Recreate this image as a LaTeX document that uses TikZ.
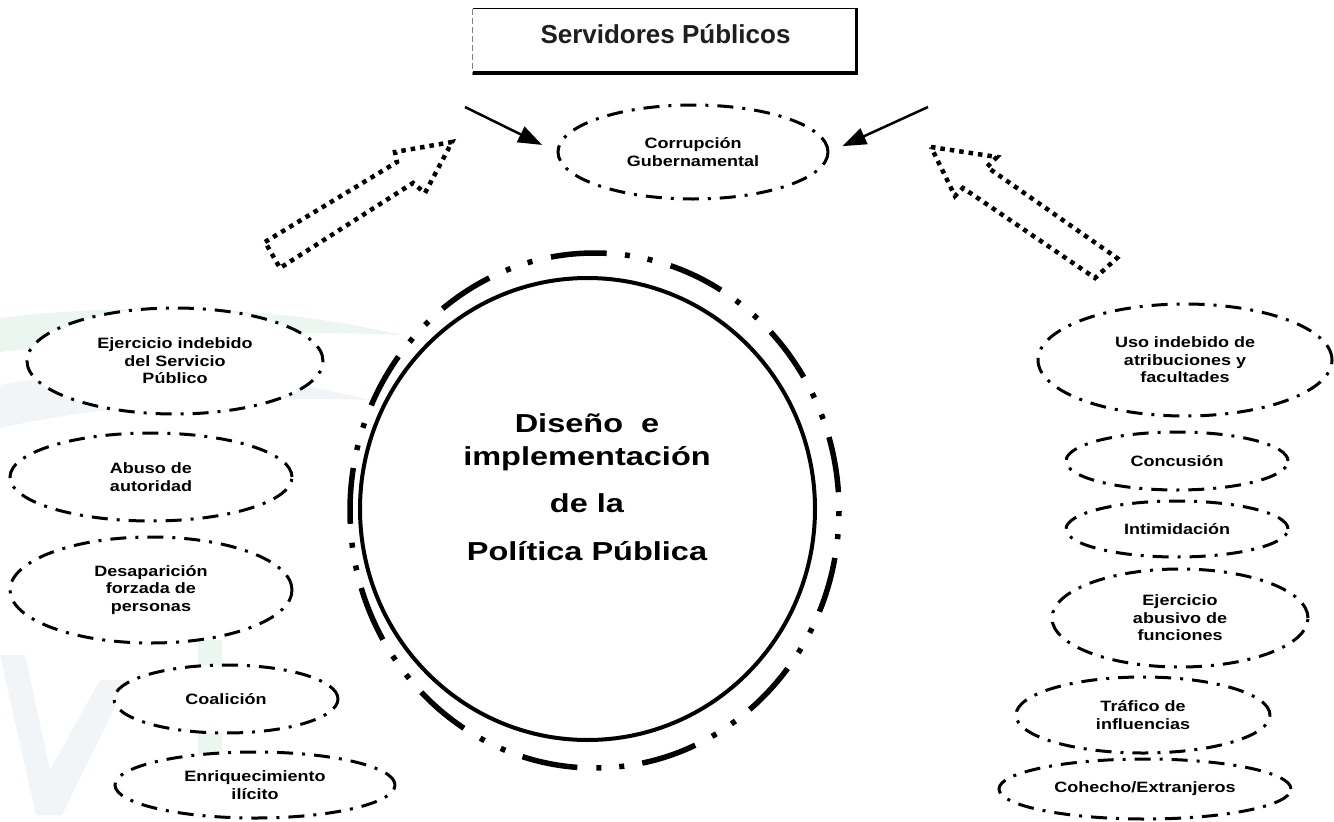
\documentclass[tikz,border=0pt]{standalone}
\usepackage{fontspec}
\setmainfont{Liberation Sans}
\newfontfamily\labfam[FakeStretch=1.2]{Liberation Sans}
\newfontfamily\bigfam[FakeStretch=1.25]{Liberation Sans}
\usetikzlibrary{shapes.geometric,arrows.meta}
\definecolor{wmgreen}{RGB}{236,246,240}
\definecolor{wmblue}{RGB}{242,245,248}
\definecolor{boxtext}{RGB}{30,30,30}
\begin{document}
\begin{tikzpicture}[x=1pt,y=-1pt,
  ell/.style={ellipse, draw=black, fill=white, line width=3pt,
    dash pattern=on 16pt off 9pt on 3pt off 9pt, inner sep=0pt, align=center,
    font=\labfam\bfseries\fontsize{15}{17.5}\selectfont},
  bigline/.style={anchor=base, inner sep=0pt, font=\bigfam\bfseries\fontsize{26}{30}\selectfont},
  blockarrow/.style={line width=4.5pt, dash pattern=on 4.5pt off 5pt, line join=miter},
  thinarrow/.style={line width=2.5pt, -{Triangle[length=24pt,width=17pt]}},
  ringstyle/.style={ellipse, draw=black, line width=5.5pt, inner sep=0pt,
    dash pattern=on 56pt off 19pt on 5pt off 18pt on 5pt off 18.3pt, dash phase=103pt},
  corestyle/.style={ellipse, draw=black, fill=white, line width=4pt, inner sep=0pt}
]
\useasboundingbox (0,0) rectangle (1334,822);
\fill[white] (0,0) rectangle (1334,822);

% faint watermark
\fill[wmgreen] (0,318) .. controls (150,300) and (300,310) .. (400,335) .. controls (300,330) and (150,335) .. (0,352) -- cycle;
\fill[wmblue] (0,385) .. controls (120,362) and (260,372) .. (370,400) .. controls (250,396) and (120,402) .. (0,428) -- cycle;
\fill[wmblue] (0,655) -- (25,655) -- (50,770) -- (100,680) -- (128,680) -- (62,815) -- (36,815) -- cycle;
\fill[wmgreen] (198,640) rectangle (222,780);

% top box
\node[minimum width=385pt, minimum height=66pt, inner sep=0pt, fill=white,
      text height=19pt, text depth=17pt, text=boxtext,
      font=\bfseries\fontsize{26}{30}\selectfont] (sp) at (665.5,42) {Servidores Públicos};
\draw[line width=1pt] (sp.north west) -- (sp.north east);
\draw[gray, line width=1.2pt, dash pattern=on 6pt off 3pt] (sp.north west) -- (sp.south west);
\draw[line width=3.5pt] ([xshift=-1.5pt]sp.north east) -- ([xshift=-1.5pt]sp.south east);
\draw[line width=4pt] ([yshift=2pt]sp.south west) -- ([yshift=2pt]sp.south east);

% central figure
\node[ringstyle, minimum width=489pt, minimum height=515pt] (ring) at (594.5,510.5) {};
\node[corestyle, minimum width=455pt, minimum height=462pt] (core) at (587.5,509) {};
\node[bigline] (t1) at (587,432) {Diseño\ \ e};
\node[bigline] (t2) at (587,465) {implementación};
\node[bigline] (t3) at (587,512) {de la};
\node[bigline] (t4) at (587,560) {Política Pública};

% top ellipse
\node[ell, minimum width=270pt, minimum height=94pt] (corr) at (693,152) {Corrupción\\Gubernamental};

% left ellipses
\node[ell, minimum width=296pt, minimum height=106pt] (e1) at (175,361) {Ejercicio indebido\\del Servicio\\Público};
\node[ell, minimum width=282pt, minimum height=88pt] (e2) at (151,477) {Abuso de\\autoridad};
\node[ell, minimum width=282pt, minimum height=106pt] (e3) at (151,590) {Desaparición\\forzada de\\personas};
\node[ell, minimum width=224pt, minimum height=68pt] (e4) at (226,699) {Coalición};
\node[ell, minimum width=280pt, minimum height=66pt] (e5) at (255,785) {Enriquecimiento\\ilícito};

% right ellipses
\node[ell, minimum width=294pt, minimum height=112pt] (r1) at (1185,360) {Uso indebido de\\atribuciones y\\facultades};
\node[ell, minimum width=222pt, minimum height=58pt] (r2) at (1177,461) {Concusión};
\node[ell, minimum width=222pt, minimum height=56pt] (r3) at (1177,529) {Intimidación};
\node[ell, minimum width=256pt, minimum height=98pt] (r4) at (1180,618) {Ejercicio\\abusivo de\\funciones};
\node[ell, minimum width=254pt, minimum height=76pt] (r5) at (1143,715) {Tráfico de\\influencias};
\node[ell, minimum width=292pt, minimum height=60pt] (r6) at (1145,789) {Cohecho/Extranjeros};

% thin arrows
\coordinate (la) at (465,107);
\coordinate (ra) at (928,107);
\draw[thinarrow, shorten >=16pt] (la) -- (corr.west);
\draw[thinarrow, shorten >=14pt] (ra) -- (corr.east);

% dotted block arrows
\draw[blockarrow] (265,242) -- (397,162) -- (395,152) -- (452,142) -- (425,193) -- (413,183) -- (280,268) -- cycle;
\draw[blockarrow] (931,147) -- (997,157) -- (987,167) -- (1117,258) -- (1095,278) -- (963,188) -- (955,196) -- cycle;
\end{tikzpicture}
\end{document}
